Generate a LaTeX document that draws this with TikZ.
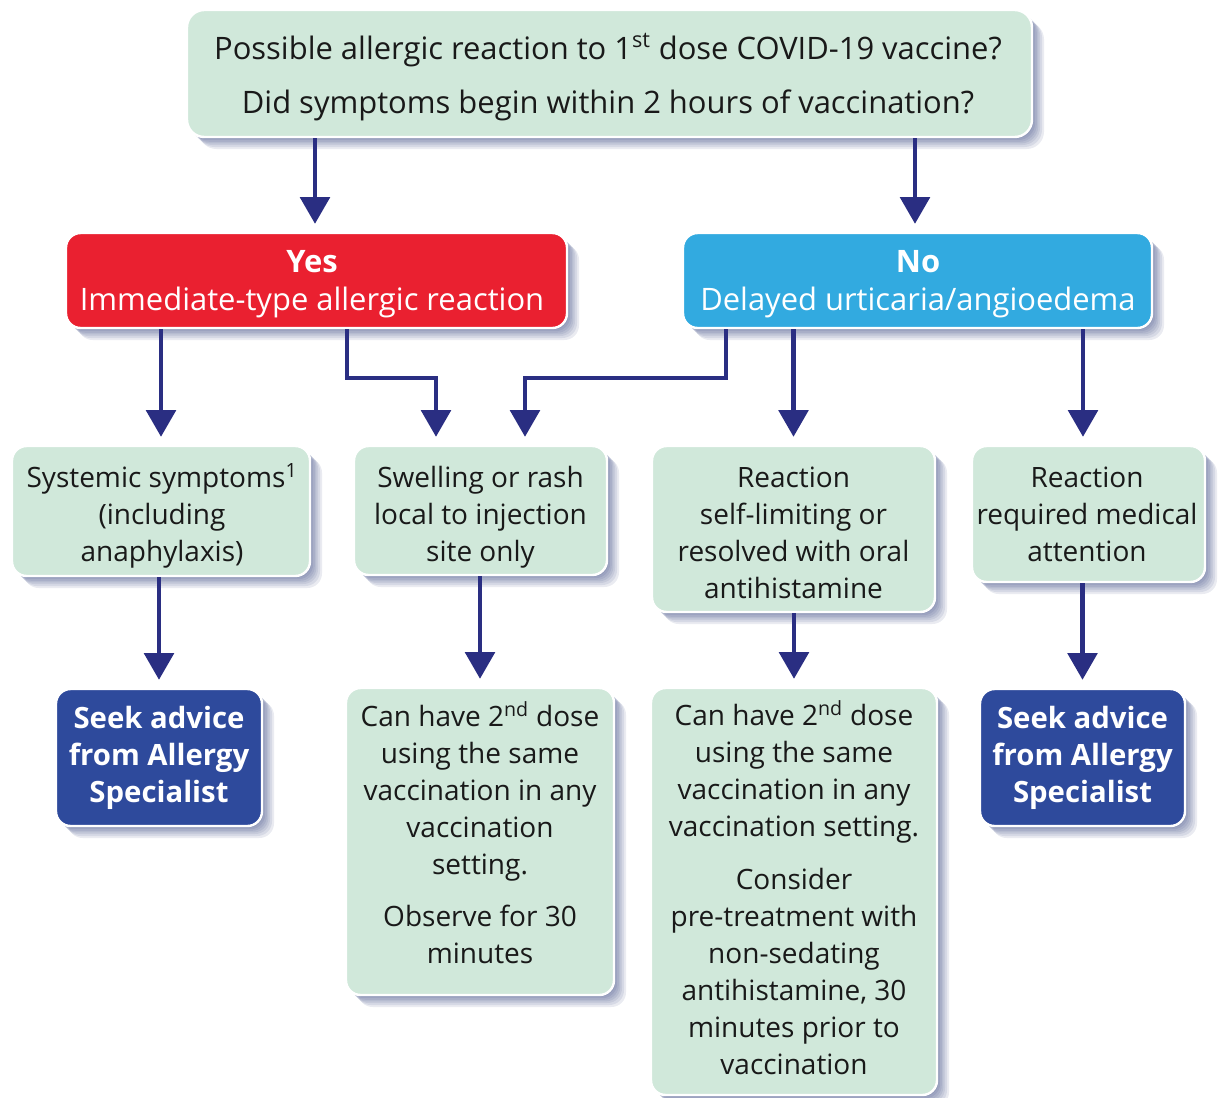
\documentclass[tikz,border=0pt]{standalone}
\usepackage{fontspec}
\setmainfont{Open Sans}
\usetikzlibrary{arrows.meta}
\definecolor{boxgreen}{RGB}{208,232,218}
\definecolor{boxred}{RGB}{234,32,48}
\definecolor{boxblue}{RGB}{50,170,224}
\definecolor{boxnavy}{RGB}{46,74,156}
\definecolor{arrnavy}{RGB}{42,46,130}
\definecolor{shadowc}{RGB}{60,74,130}
\definecolor{txt}{RGB}{25,25,25}
\begin{document}
\begin{tikzpicture}[x=0.75pt,y=-0.75pt,
  shad/.style={preaction={fill=shadowc, draw=none, fill opacity=0.11, transform canvas={xshift=#1, yshift=-#1}}},
  base/.style={rounded corners=11pt, draw=white, line width=1.8pt, inner sep=0pt,
    shad=1.2pt, shad=2.4pt, shad=3.6pt, shad=4.8pt, shad=6pt, shad=7.5pt, shad=9pt},
  gbox/.style={base, fill=boxgreen},
  rbox/.style={base, fill=boxred},
  bbox/.style={base, fill=boxblue},
  nbox/.style={base, fill=boxnavy},
  tx/.style={align=center, inner sep=0pt, text=txt, font=\fontsize{21}{27.75}\selectfont},
  bigtx/.style={align=center, inner sep=0pt, font=\fontsize{23.2}{28.5}\selectfont},
  wtx/.style={align=center, inner sep=0pt, text=white, font=\fontsize{22}{27.75}\selectfont\bfseries},
  arr/.style={draw=arrnavy, line width=3.4pt, -{Triangle[width=22pt,length=20pt]}, shorten >=6pt}
]
\useasboundingbox (0,0) rectangle (1218,1097);

% boxes
\node[gbox, rounded corners=13pt, minimum width=633.75pt, minimum height=95.25pt] (top) at (609.5,73.5) {};
\node[rbox, minimum width=375.75pt, minimum height=71.25pt] (yes) at (316.5,280.5) {};
\node[bbox, minimum width=351.75pt, minimum height=71.25pt] (no) at (917.5,280.5) {};
\node[gbox, minimum width=223.5pt, minimum height=97.5pt] (sys) at (161,511) {};
\node[gbox, minimum width=189.75pt, minimum height=96.75pt] (swell) at (480.5,510.5) {};
\node[gbox, minimum width=212.25pt, minimum height=124.5pt] (self) at (793.5,529) {};
\node[gbox, minimum width=174.75pt, minimum height=102pt] (req) at (1088.5,514) {};
\node[nbox, minimum width=154.5pt, minimum height=102.75pt] (seekl) at (159,757.5) {};
\node[gbox, minimum width=201pt, minimum height=230.25pt] (canl) at (480,841.5) {};
\node[gbox, minimum width=214.5pt, minimum height=305.25pt] (canr) at (794,891.5) {};
\node[nbox, minimum width=153.75pt, minimum height=102.75pt] (seekr) at (1082.5,757.5) {};

% texts
\node[bigtx, text=txt] (topt) at (608,77)
  {Possible allergic reaction to 1\textsuperscript{st} dose COVID-19 vaccine?\\[12.5pt]Did symptoms begin within 2 hours of vaccination?};
\node[bigtx, text=white] (yest) at (312,284)
  {{\bfseries Yes}\\Immediate-type allergic reaction};
\node[bigtx, text=white] (not) at (918,284)
  {{\bfseries No}\\Delayed urticaria/angioedema};
\node[tx] (syst) at (162,516)
  {Systemic symptoms\textsuperscript{1}\\(including\\anaphylaxis)};
\node[tx] (swellt) at (480.5,517.5)
  {Swelling or rash\\local to injection\\site only};
\node[tx] (selft) at (793.5,533)
  {Reaction\\self-limiting or\\resolved with oral\\antihistamine};
\node[tx] (reqt) at (1087,514)
  {Reaction\\required medical\\attention};
\node[wtx] (seeklt) at (159,757.5)
  {Seek advice\\from Allergy\\Specialist};
\node[tx] (canlt) at (480,832.5)
  {Can have 2\textsuperscript{nd} dose\\using the same\\vaccination in any\\vaccination\\setting.\\[11pt]Observe for 30\\minutes};
\node[tx] (canrt) at (794,887.5)
  {Can have 2\textsuperscript{nd} dose\\using the same\\vaccination in any\\vaccination setting.\\[12pt]Consider\\pre-treatment with\\non-sedating\\antihistamine, 30\\minutes prior to\\vaccination};
\node[wtx] (seekrt) at (1082.5,757.5)
  {Seek advice\\from Allergy\\Specialist};

% connectors
\coordinate (ta) at (315,0);
\coordinate (tb) at (915,0);
\coordinate (ya) at (347,378);
\coordinate (yb) at (436,378);
\coordinate (na) at (726,378);
\coordinate (nb) at (525,378);
\coordinate (nc) at (1083,0);

\draw[arr] (top.south -| ta) -- (yes.north -| ta);
\draw[arr] (top.south -| tb) -- (no.north -| tb);
\draw[arr] (yes.south -| sys.north) -- (sys.north);
\draw[arr] (yes.south -| ya) -- (ya) -- (yb) -- (yb |- swell.north);
\draw[arr] (no.south -| na) -- (na) -- (nb) -- (nb |- swell.north);
\draw[arr] (no.south -| self.north) -- (self.north);
\draw[arr] (no.south -| nc) -- (req.north -| nc);
\draw[arr] (sys.south -| seekl.north) -- (seekl.north);
\draw[arr] (swell.south -| canl.north) -- (canl.north);
\draw[arr] (self.south -| canr.north) -- (canr.north);
\draw[arr] (req.south -| seekr.north) -- (seekr.north);
\end{tikzpicture}
\end{document}
